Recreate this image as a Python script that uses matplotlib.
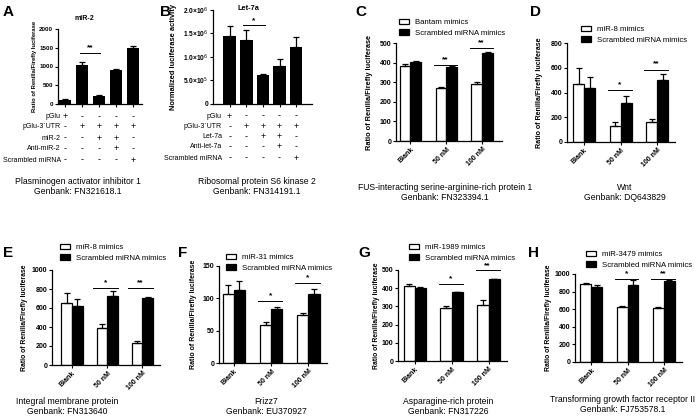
import numpy as np
import matplotlib
matplotlib.use("Agg")
from matplotlib import pyplot as plt

plt.rcParams['font.family'] = ['Liberation Sans', 'DejaVu Sans']

W, H = 700, 417

# A: miR-2 / PAI-1 reporter
a_vals = [110, 1040, 220, 920, 1500]
a_err = [12, 90, 20, 15, 50]
a_rows = ["pGlu", "pGlu-3´UTR", "miR-2", "Anti-miR-2", "Scrambled miRNA"]
a_ticks = [0, 500, 1000, 1500, 2000]

# B: let-7a / S6 kinase 2 reporter
b_vals = [1.45e6, 1.35e6, 0.62e6, 0.81e6, 1.2e6]
b_err = [0.21e6, 0.22e6, 0.005e6, 0.15e6, 0.23e6]
b_rows = ["pGlu", "pGlu-3´UTR", "Let-7a", "Anti-let-7a", "Scrambled miRNA"]
b_ticks = [0, 5e5, 1e6, 1.5e6, 2e6]
b_ticklabels = ["0", "5.0×10$^5$", "1.0×10$^6$", "1.5×10$^6$", "2.0×10$^6$"]

# +/- table, same for A and B
signs = [["+", "-", "-", "-", "-"],
         ["-", "+", "+", "+", "+"],
         ["-", "-", "+", "+", "-"],
         ["-", "-", "-", "+", "-"],
         ["-", "-", "-", "-", "+"]]

groups = ["Blank", "50 nM", "100 nM"]

c_mimic, c_mimic_err = [383, 272, 290], [10, 5, 9]
c_scr, c_scr_err = [402, 378, 450], [5, 3, 4]
d_mimic, d_mimic_err = [470, 130, 165], [125, 30, 20]
d_scr, d_scr_err = [435, 318, 505], [90, 55, 45]
e_mimic, e_mimic_err = [650, 390, 228], [105, 45, 25]
e_scr, e_scr_err = [620, 725, 705], [80, 50, 15]
f_mimic, f_mimic_err = [107, 58, 74], [14, 5, 4]
f_scr, f_scr_err = [113, 83, 107], [14, 4, 8]
g_mimic, g_mimic_err = [410, 292, 305], [15, 12, 30]
g_scr, g_scr_err = [402, 378, 450], [5, 2, 3]
h_mimic, h_mimic_err = [885, 630, 615], [12, 2, 15]
h_scr, h_scr_err = [850, 870, 915], [30, 60, 20]

ylab = "Ratio of Renilla/Firefly luciferase"

fig = plt.figure(figsize=(7, 4.17), dpi=100)


def px_axes(l, t, r, b):
    return fig.add_axes([l / W, 1 - b / H, (r - l) / W, (b - t) / H])


def txt(x, y, s, **kw):
    fig.text(x / W, 1 - y / H, s, **kw)


def style(ax, fs):
    for s in ("top", "right"):
        ax.spines[s].set_visible(False)
    for s in ("left", "bottom"):
        ax.spines[s].set_linewidth(0.9)
    ax.tick_params(direction="out", length=2.5, width=0.8, labelsize=fs, pad=1)
    for lab in ax.get_yticklabels() + ax.get_xticklabels():
        lab.set_fontweight("bold")


def set_ylabel(ax, box, xpx, s, fs):
    ax.set_ylabel(s, fontsize=fs, fontweight="bold")
    ax.yaxis.set_label_coords((xpx - box[0]) / (box[2] - box[0]), 0.5)


def sig(ax, x0, x1, y, stars, off):
    ax.plot([x0, x1], [y, y], color="black", lw=0.7, clip_on=False)
    ax.text((x0 + x1) / 2, y + off, stars, ha="center", va="center",
            fontsize=6, fontweight="bold", clip_on=False)


def five_bar(box, xlim, width, vals, err, ylim, ticks, fs):
    ax = px_axes(*box)
    x = np.arange(len(vals))
    ax.bar(x, vals, width, color="black")
    ax.errorbar(x, vals, yerr=[np.zeros(len(vals)), err], fmt="none",
                ecolor="black", elinewidth=0.9, capsize=2.2, capthick=0.9)
    ax.set_xlim(*xlim)
    ax.set_ylim(0, ylim)
    ax.set_yticks(ticks)
    ax.set_xticks(x)
    ax.set_xticklabels([])
    style(ax, fs)
    return ax


def table(ax, rows, label_x, row_y):
    for i, row in enumerate(rows):
        txt(label_x, row_y[i], row, ha="right", va="center", fontsize=5)
        for j, s in enumerate(signs[i]):
            xd = ax.transData.transform((j, 0))[0] / fig.dpi / 7.0
            fig.text(xd, 1 - row_y[i] / H, s, ha="center", va="center", fontsize=6.5)


def pair_bar(box, xlim, mimic, mimic_err, scr, scr_err, ylim, ticks, names, leg_xy):
    ax = px_axes(*box)
    x = np.arange(3)
    w = 0.3
    b1 = ax.bar(x - w / 2, mimic, w, color="white", edgecolor="black", lw=0.9)
    b2 = ax.bar(x + w / 2, scr, w, color="black", edgecolor="black", lw=0.9)
    ax.errorbar(x - w / 2, mimic, yerr=[np.zeros(3), mimic_err], fmt="none",
                ecolor="black", elinewidth=0.9, capsize=2, capthick=0.9)
    ax.errorbar(x + w / 2, scr, yerr=[np.zeros(3), scr_err], fmt="none",
                ecolor="black", elinewidth=0.9, capsize=2, capthick=0.9)
    ax.set_xlim(*xlim)
    ax.set_ylim(0, ylim)
    ax.set_yticks(ticks)
    ax.set_xticks(x)
    ax.set_xticklabels(groups, rotation=45, ha="right", rotation_mode="anchor")
    style(ax, 5)
    ax.legend([b1, b2], names, loc="upper left",
              bbox_to_anchor=(leg_xy[0] / W, 1 - leg_xy[1] / H),
              bbox_transform=fig.transFigure, frameon=False, fontsize=5.6,
              handlelength=1.3, handleheight=0.7, handletextpad=0.8,
              labelspacing=0.35, borderpad=0, borderaxespad=0)
    return ax


# ---- A
boxA = (58, 29, 142, 104)
axA = five_bar(boxA, (-0.41, 4.53), 0.7, a_vals, a_err, 2000, a_ticks, 4.5)
set_ylabel(axA, boxA, 37, ylab, 4.2)
sig(axA, 0.9, 2.05, 1350, "**", 140)
txt(84, 18, "miR-2", ha="center", va="center", fontsize=5, fontweight="bold")
table(axA, a_rows, 61, [117, 127, 138, 149, 160])
txt(78, 182, "Plasminogen activator inhibitor 1", ha="center", va="center", fontsize=6.2)
txt(78, 192, "Genbank: FN321618.1", ha="center", va="center", fontsize=6.2)

# ---- B
boxB = (213, 10, 312, 103.5)
axB = five_bar(boxB, (-1.0, 4.95), 0.75, b_vals, b_err, 2e6, b_ticks, 4.8)
axB.set_yticklabels(b_ticklabels)
for lab in axB.get_yticklabels():
    lab.set_fontweight("bold")
set_ylabel(axB, boxB, 177, "Normalized luciferase activity", 5.4)
sig(axB, 0.8, 2.1, 1.68e6, "*", 0.1e6)
txt(248, 9, "Let-7a", ha="center", va="center", fontsize=5.3, fontweight="bold")
table(axB, b_rows, 222, [116, 127, 137, 147, 158])
txt(257, 182, "Ribosomal protein S6 kinase 2", ha="center", va="center", fontsize=6.2)
txt(257, 192, "Genbank: FN314191.1", ha="center", va="center", fontsize=6.2)

# ---- C
boxC = (396, 43, 502, 141)
axC = pair_bar(boxC, (-0.4, 2.55), c_mimic, c_mimic_err, c_scr, c_scr_err, 500,
               [0, 100, 200, 300, 400, 500], ["Bantam mimics", "Scrambled miRNA mimics"], (399, 19))
set_ylabel(axC, boxC, 373, ylab, 5.3)
sig(axC, 0.65, 1.3, 389, "**", 28)
sig(axC, 1.65, 2.3, 474, "**", 28)
txt(445, 188, "FUS-interacting serine-arginine-rich protein 1", ha="center", va="center", fontsize=6.2)
txt(445, 198, "Genbank: FN323394.1", ha="center", va="center", fontsize=6.2)

# ---- D
boxD = (567, 43, 675, 142)
axD = pair_bar(boxD, (-0.47, 2.49), d_mimic, d_mimic_err, d_scr, d_scr_err, 800,
               [0, 200, 400, 600, 800], ["miR-8 mimics", "Scrambled miRNA mimics"], (581, 26))
set_ylabel(axD, boxD, 543, ylab, 5.1)
sig(axD, 0.65, 1.3, 418, "*", 45)
sig(axD, 1.65, 2.3, 585, "**", 45)
txt(625, 188, "Wnt", ha="center", va="center", fontsize=6.2)
txt(625, 198, "Genbank: DQ643829", ha="center", va="center", fontsize=6.2)

# ---- E
boxE = (52, 270, 160, 365)
axE = pair_bar(boxE, (-0.57, 2.5), e_mimic, e_mimic_err, e_scr, e_scr_err, 1000,
               [0, 200, 400, 600, 800, 1000], ["miR-8 mimics", "Scrambled miRNA mimics"], (60, 244))
set_ylabel(axE, boxE, 28, ylab, 4.9)
sig(axE, 0.6, 1.3, 810, "*", 55)
sig(axE, 1.6, 2.3, 810, "**", 55)
txt(67, 402, "Integral membrane protein", ha="center", va="center", fontsize=6.2)
txt(67, 412, "Genbank: FN313640", ha="center", va="center", fontsize=6.2)

# ---- F
boxF = (219, 266, 327, 363)
axF = pair_bar(boxF, (-0.4, 2.5), f_mimic, f_mimic_err, f_scr, f_scr_err, 150,
               [0, 50, 100, 150], ["miR-31 mimics", "Scrambled miRNA mimics"], (226, 254))
set_ylabel(axF, boxF, 197, ylab, 5.0)
sig(axF, 0.65, 1.3, 96.5, "*", 8)
sig(axF, 1.65, 2.3, 124, "*", 8)
txt(266, 402, "Frizz7", ha="center", va="center", fontsize=6.2)
txt(266, 411, "Genbank: EU370927", ha="center", va="center", fontsize=6.2)

# ---- G
boxG = (398, 270, 507, 361)
axG = pair_bar(boxG, (-0.45, 2.5), g_mimic, g_mimic_err, g_scr, g_scr_err, 500,
               [0, 100, 200, 300, 400, 500], ["miR-1989 mimics", "Scrambled miRNA mimics"], (409, 244))
set_ylabel(axG, boxG, 380, ylab, 4.9)
sig(axG, 0.65, 1.3, 423, "*", 28)
sig(axG, 1.65, 2.3, 500, "**", 22)
txt(448, 402, "Asparagine-rich protein", ha="center", va="center", fontsize=6.2)
txt(448, 411, "Genbank: FN317226", ha="center", va="center", fontsize=6.2)

# ---- H
boxH = (575, 274, 682, 362)
axH = pair_bar(boxH, (-0.45, 2.5), h_mimic, h_mimic_err, h_scr, h_scr_err, 1000,
               [0, 200, 400, 600, 800, 1000], ["miR-3479 mimics", "Scrambled miRNA mimics"], (586, 251))
set_ylabel(axH, boxH, 552, ylab, 4.9)
sig(axH, 0.65, 1.3, 947, "*", 55)
sig(axH, 1.65, 2.3, 947, "**", 55)
txt(623, 400, "Transforming growth factor receptor II", ha="center", va="center", fontsize=6.2)
txt(623, 409, "Genbank: FJ753578.1", ha="center", va="center", fontsize=6.2)

# panel letters
for lab, x, y in [("A", 3, 5), ("B", 160, 5), ("C", 355, 5), ("D", 530, 5),
                  ("E", 3, 246), ("F", 178, 246), ("G", 358, 246), ("H", 528, 246)]:
    txt(x, y, lab, ha="left", va="top", fontsize=11, fontweight="bold")

fig.savefig("out.png", dpi=100)
